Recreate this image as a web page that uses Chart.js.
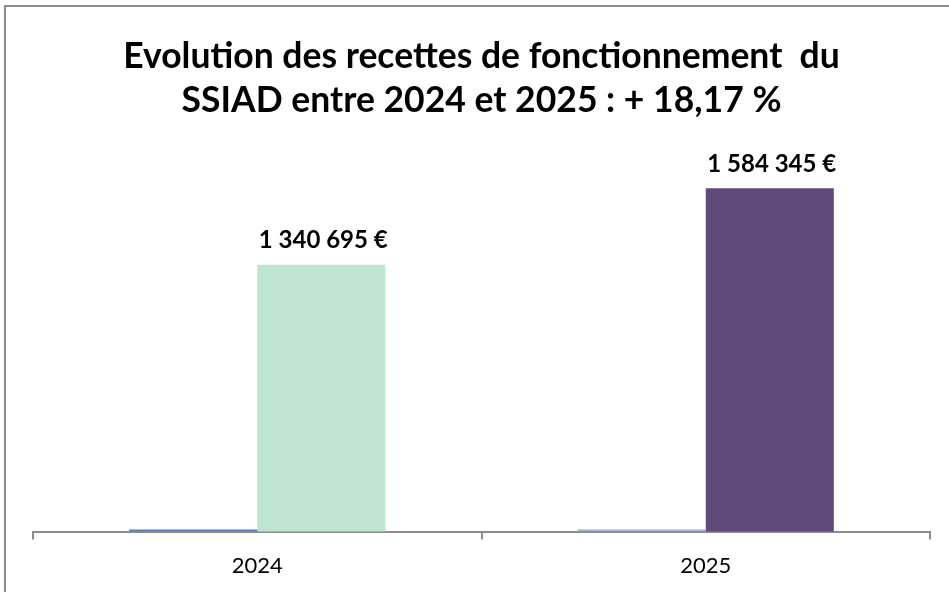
<!DOCTYPE html>
<html>
<head>
<meta charset="utf-8">
<script src="https://cdn.jsdelivr.net/npm/chart.js@4/dist/chart.umd.min.js"></script>
<style>
  html, body { margin: 0; padding: 0; background: #fff; }
  #wrap { position: relative; width: 949px; height: 592px; overflow: hidden; }
  #frame { position: absolute; left: 4px; top: 5px; width: 960px; height: 600px;
           border-top: 2px solid #8c8c8c; border-left: 2px solid #8c8c8c; }
  canvas { position: absolute; left: 0; top: 0; }
</style>
</head>
<body>
<div id="wrap">
  <div id="frame"></div>
  <canvas id="recettes" width="949" height="592"></canvas>
</div>
<script>
// data
var years = ["2024", "2025"];
var serieVide = [0, 0];
var recettes = [1340695, 1584345];
var titre = ["Evolution des recettes de fonctionnement  du", "SSIAD entre 2024 et 2025 : + 18,17 %"];

function euros(v) {
    return String(v).replace(/\B(?=(\d{3})+(?!\d))/g, " ") + " €";
}

// labels au-dessus des barres
var valueLabels = {
    id: 'valueLabels',
    afterDatasetsDraw: function (chart) {
        var ctx = chart.ctx;
        var meta = chart.getDatasetMeta(1);
        ctx.save();
        ctx.font = "bold 24px Lato";
        ctx.fillStyle = "#000";
        ctx.textAlign = "center";
        ctx.textBaseline = "middle";
        meta.data.forEach(function (bar, i) {
            ctx.fillText(euros(recettes[i]), bar.x + 2, bar.y - 24);
        });
        ctx.restore();
    }
};

var myChart;

function drawChart() {
    var ctx = document.getElementById("recettes").getContext('2d');

    myChart = new Chart(ctx, {
        type: 'bar',
        data: {
            labels: years,
            datasets: [{
                data: serieVide,
                yAxisID: 'y2',
                backgroundColor: ['#4f81bd', '#8eb4e3'],
                minBarLength: 2
            }, {
                data: recettes,
                backgroundColor: ['#bde5d0', '#604a7b']
            }]
        },
        options: {
            responsive: false,
            animation: false,
            categoryPercentage: 0.571,
            barPercentage: 1,
            layout: {
                padding: { left: 33, right: 19, top: 0, bottom: 0 }
            },
            plugins: {
                title: {
                    display: true,
                    text: titre,
                    color: '#000',
                    font: { family: 'Lato', size: 35.5, weight: 'bold', lineHeight: 1.24 },
                    padding: { top: 35, bottom: 29 }
                },
                legend: { display: false },
                tooltip: { enabled: false }
            },
            scales: {
                x: {
                    grid: {
                        offset: true,
                        drawOnChartArea: false,
                        drawTicks: true,
                        tickLength: 8,
                        color: '#8c8c8c',
                        lineWidth: 2
                    },
                    border: { color: '#8c8c8c', width: 2 },
                    ticks: {
                        color: '#000',
                        padding: 13,
                        font: { family: 'Lato', size: 22 }
                    }
                },
                y: {
                    display: false,
                    min: 490000,
                    max: 1700000
                },
                y2: {
                    display: false,
                    min: 0,
                    max: 1
                }
            }
        },
        plugins: [valueLabels]
    });
}

drawChart();
</script>
</body>
</html>
